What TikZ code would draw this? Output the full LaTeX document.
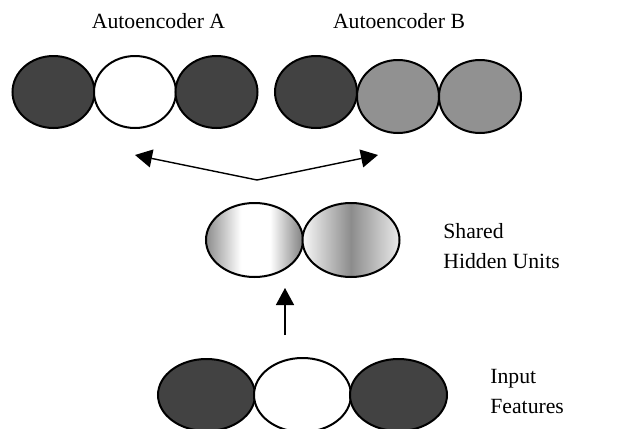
\documentclass[tikz,border=0pt]{standalone}
\usepackage{fontspec}
\setmainfont{Liberation Serif}
\usetikzlibrary{arrows.meta,shapes.geometric}
\definecolor{unitdark}{RGB}{66,66,66}
\definecolor{unitgray}{RGB}{145,145,145}
% shadings for the two shared units
\pgfdeclarehorizontalshading{hiddenleft}{100bp}{color(0bp)=(black!45); color(25bp)=(black!45); color(43bp)=(white); color(58bp)=(white); color(75bp)=(black!50); color(100bp)=(black!50)}
\pgfdeclarehorizontalshading{hiddenright}{100bp}{color(0bp)=(black!3); color(25bp)=(black!3); color(50bp)=(black!45); color(75bp)=(black!8); color(100bp)=(black!8)}
\tikzset{
  unit/.style={ellipse,draw=black,line width=1pt,inner sep=0pt},
  outunit/.style={unit,minimum width=41pt,minimum height=36pt},
  inunit/.style={unit,minimum width=48.5pt,minimum height=37pt},
  darkunit/.style={fill=unitdark},
  grayunit/.style={fill=unitgray},
  label/.style={font=\fontsize{10.85}{15}\selectfont,align=left,inner sep=0pt},
  link/.style={line width=0.7pt,-{Triangle[length=8.5pt,width=9pt]}},
}

\begin{document}
\begin{tikzpicture}[x=0.5pt,y=-0.5pt]
    \useasboundingbox (0,0) rectangle (618,429);

    % Autoencoder A
    \node[label,anchor=base] (titleA) at (158.5,28) {Autoencoder A};
    \node[outunit,darkunit] (a1) at (53.5,92) {};
    \node[outunit,fill=white] (a2) at (135,92) {};
    \node[outunit,darkunit] (a3) at (216.5,92) {};

    % Autoencoder B
    \node[label,anchor=base] (titleB) at (399,28) {Autoencoder B};
    \node[outunit,darkunit] (b1) at (316,92) {};
    \node[outunit,grayunit,minimum height=36.5pt] (b2) at (398,96.5) {};
    \node[outunit,grayunit,minimum height=36.5pt] (b3) at (480,96.5) {};

    % Split arrow
    \coordinate (fork) at (257,180);
    \coordinate (toA) at (135,155);
    \coordinate (toB) at (378,155);
    \draw[link] (fork) -- (toA);
    \draw[link] (fork) -- (toB);

    % Shared hidden units
    \node[inunit,shading=hiddenleft] (h1) at (254.5,240) {};
    \node[inunit,shading=hiddenright] (h2) at (351,240) {};
    \node[label,anchor=base west] (hidtext) at (443,268) {Shared\\Hidden Units};

    % Input arrow
    \coordinate (infrom) at (285,335);
    \coordinate (into) at (285,288);
    \draw[link] (infrom) -- (into);

    % Input features
    \node[inunit,darkunit,minimum height=36pt] (x1) at (206.5,395) {};
    \node[inunit,fill=white] (x2) at (302.5,395) {};
    \node[inunit,darkunit,minimum height=36pt] (x3) at (398.5,395) {};
    \node[label,anchor=base west] (intext) at (490,413) {Input\\Features};
\end{tikzpicture}
\end{document}
